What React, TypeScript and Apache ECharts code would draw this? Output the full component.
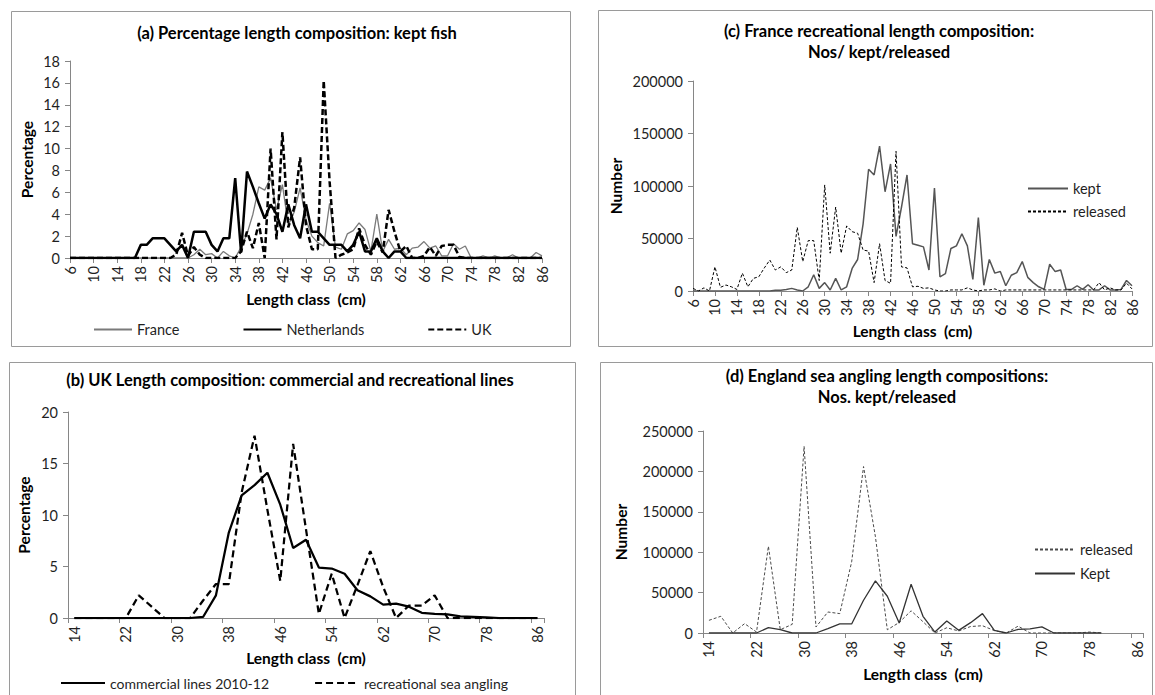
import React, { useEffect, useRef } from "react";
import * as echarts from "echarts";

const FONT = 'Lato, "Liberation Sans", sans-serif';

// Length classes (cm): 1 cm classes for panels (a) and (c), 2 cm classes for (b) and (d)
const lengthsFine = [
  6, 7, 8, 9, 10, 11, 12, 13, 14, 15, 16, 17, 18, 19, 20, 21, 22, 23, 24, 25,
  26, 27, 28, 29, 30, 31, 32, 33, 34, 35, 36, 37, 38, 39, 40, 41, 42, 43, 44, 45,
  46, 47, 48, 49, 50, 51, 52, 53, 54, 55, 56, 57, 58, 59, 60, 61, 62, 63, 64, 65,
  66, 67, 68, 69, 70, 71, 72, 73, 74, 75, 76, 77, 78, 79, 80, 81, 82, 83, 84, 85, 86,
];
const lengthsEven = [
  14, 16, 18, 20, 22, 24, 26, 28, 30, 32, 34, 36, 38, 40, 42, 44, 46, 48, 50, 52,
  54, 56, 58, 60, 62, 64, 66, 68, 70, 72, 74, 76, 78, 80, 82, 84, 86,
];

// (a) Percentage length composition of kept fish
const pctFrance = [
  0, 0, 0, 0, 0, 0, 0, 0, 0, 0, 0, 0, 0, 0, 0, 0, 0, 0, 0, 0,
  0, 0.3, 0.8, 0.3, 0.4, 0, 0.6, 0.2, 0, 1.0,
  2.2, 4.0, 6.5, 6.2, 7.3, 4.4, 6.7, 3.0, 4.2, 6.4,
  3.5, 2.0, 1.4, 1.1, 5.0, 1.0, 0.8, 2.2, 2.5, 3.2,
  2.6, 0.6, 4.0, 0.6, 1.7, 0.8, 0.9, 0.3, 0.9, 1.0,
  1.5, 0.9, 1.1, 0.2, 0.2, 1.3, 0.8, 1.1, 0, 0,
  0.2, 0, 0.2, 0, 0, 0.3, 0, 0, 0, 0.5, 0.2,
];
const pctNetherlands = [
  0, 0, 0, 0, 0, 0, 0, 0, 0, 0, 0, 0,
  1.2, 1.2, 1.8, 1.8, 1.8, 1.2, 0.6, 1.2,
  0, 2.4, 2.4, 2.4, 1.2, 0.6, 1.8, 1.8, 7.3, 0.5,
  7.9, 6.5, 5.0, 3.6, 4.9, 4.0, 2.4, 4.9, 3.0, 1.8,
  4.9, 2.4, 2.4, 1.8, 1.2, 1.2, 1.2, 0.6, 1.2, 2.4,
  0.6, 0.6, 1.8, 0.6, 0, 0.6, 0.6, 0, 0, 0,
  0, 0, 0, 0, 0, 0, 0, 0, 0, 0, 0, 0, 0, 0, 0, 0, 0, 0, 0, 0, 0,
];
const pctUK = [
  0, 0, 0, 0, 0, 0, 0, 0, 0, 0, 0, 0, 0, 0, 0, 0, 0, 0,
  0.3, 2.3,
  0.2, 1.0, 0.3, 0, 0, 0, 0, 0, 0, 0.6,
  2.4, 0.9, 3.2, 0, 10.0, 1.7, 11.5, 2.8, 4.6, 9.2,
  3.0, 0.8, 0.8, 16.2, 7.0, 0, 0.3, 0.5, 0.8, 2.7,
  1.2, 0.3, 1.5, 0.5, 4.4, 2.4, 0.6, 1.1, 0, 0,
  0.2, 1.0, 0.2, 1.1, 1.2, 1.2, 0.1, 0, 0, 0,
  0, 0, 0, 0, 0, 0, 0, 0, 0, 0, 0,
];

// (b) UK length composition, commercial vs recreational lines (%)
const pctCommercial = [
  0, 0, 0, 0, 0, 0, 0, 0, 0, 0,
  0.1, 2.2, 8.3, 11.9, 12.9, 14.1, 11.0, 6.8, 7.6, 4.9,
  4.8, 4.3, 2.7, 2.1, 1.3, 1.4, 1.1, 0.5, 0.4, 0.35,
  0.15, 0.1, 0.05, 0, 0, 0, 0,
];
const pctRecreational = [
  0, 0, 0, 0, 0, 2.2, 1.1, 0, 0, 0,
  1.7, 3.3, 3.3, 12.2, 17.7, 10.5, 3.6, 16.9, 8.6, 0.4,
  4.3, 0, 3.2, 6.5, 3.0, 0, 1.2, 1.2, 2.2, 0,
  0, 0, 0, 0, 0, 0, 0,
];

// (c) France recreational numbers kept / released
const frKept = [
  0, 0, 0, 0, 0, 0, 0, 0, 0, 0, 0, 0, 0, 0, 0,
  800, 800, 1500, 2500, 1000,
  0, 4000, 15500, 2500, 8000, 1000, 12000, 1000, 4000, 21500,
  30000, 64000, 116000, 110500, 138000, 94500, 121000, 52000, 80000, 110500,
  45000, 43500, 42000, 20000, 98000, 13500, 16500, 40500, 43000, 54500,
  43000, 11000, 70000, 5500, 30000, 17000, 18500, 5000, 15000, 17500,
  28000, 13000, 8000, 4000, 1500, 25500, 18500, 20000, 1500, 1500,
  5000, 1500, 6000, 1000, 1000, 5000, 1000, 1000, 1500, 10000, 5000,
];
const frReleased = [
  2500, 0, 3000, 0, 23000, 3500, 5700, 4000, 1500, 17000,
  4000, 12000, 13600, 22000, 29500, 20000, 23000, 17500, 20000, 60600,
  28000, 48000, 48000, 10000, 101000, 36000, 80000, 36000, 62000, 56500,
  55000, 39000, 38000, 8000, 45000, 10000, 7300, 133000, 23000, 22000,
  4000, 4500, 2500, 3000, 1000, 0, 0, 1000, 1000, 1000,
  3000, 1000, 0, 1000, 1000, 2000, 0, 1000, 1000, 1000,
  1000, 1000, 1000, 1000, 1000, 1000, 1000, 1000, 1000, 1000,
  1000, 1000, 1000, 1000, 8000, 1000, 3000, 1000, 1000, 7500, 2000,
];

// (d) England sea angling numbers released / kept
const enReleased = [
  15700, 20700, 0, 11600, 1200, 107400, 4100, 10700, 231000, 7400,
  26000, 24000, 88000, 206000, 119000, 4000, 13000, 27500, 14000, 0,
  6500, 2500, 8000, 9000, 3000, 0, 8500, 0, 0, 0,
  0, 0, 1200, 0, null, null, null,
];
const enKept = [
  0, 0, 0, 0, 0, 6600, 4100, 0, 0, 0,
  5400, 11200, 11200, 40500, 64500, 45500, 12400, 60300, 20700, 1200,
  14900, 3300, 12800, 24000, 3300, 0, 4500, 5000, 7500, 0,
  0, 0, 0, 0, null, null, null,
];

const AXIS_GRAY = "#868686";
const tickLabel = { color: "#1f1f1f", fontFamily: FONT, fontSize: 14.5 };
const axisName = { color: "#000", fontFamily: FONT, fontSize: 15.5, fontWeight: "bold" as const };
const legendText = { color: "#1f1f1f", fontFamily: FONT, fontSize: 14.5 };

function catAxis(gridIndex: number, data: number[], boundaryGap: boolean, nameGap: number) {
  return {
    gridIndex,
    type: "category" as const,
    data: data.map(String),
    boundaryGap,
    axisLine: { show: true, lineStyle: { color: AXIS_GRAY, width: 1 } },
    axisTick: { show: true, interval: 3, length: 5, lineStyle: { color: AXIS_GRAY } },
    axisLabel: { interval: 3, rotate: 90, margin: 8, ...tickLabel },
    splitLine: { show: false },
    name: "Length class  (cm)",
    nameLocation: "middle" as const,
    nameGap,
    nameTextStyle: axisName,
  };
}

function valAxis(gridIndex: number, max: number, interval: number, name: string, nameGap: number) {
  return {
    gridIndex,
    type: "value" as const,
    min: 0,
    max,
    interval,
    axisLine: { show: true, lineStyle: { color: AXIS_GRAY, width: 1 } },
    axisTick: { show: true, length: 5, lineStyle: { color: AXIS_GRAY } },
    axisLabel: { margin: 10, formatter: (v: number) => String(v), ...tickLabel },
    splitLine: { show: false },
    name,
    nameLocation: "middle" as const,
    nameRotate: 90,
    nameGap,
    nameTextStyle: axisName,
  };
}

function lineSeries(
  name: string,
  axis: number,
  data: (number | null)[],
  color: string,
  width: number,
  type: "solid" | number[]
) {
  return {
    name,
    type: "line" as const,
    xAxisIndex: axis,
    yAxisIndex: axis,
    data,
    symbol: "none",
    connectNulls: false,
    silent: true,
    lineStyle: { color, width, type },
    itemStyle: { color },
  };
}

// Legend showing only the line sample (the marker is made invisible)
function legendBox(extra: Record<string, unknown>) {
  return {
    itemHeight: 14,
    textStyle: legendText,
    selectedMode: false,
    itemStyle: { color: "transparent", borderWidth: 0, opacity: 0 },
    ...extra,
  };
}

function panelTitle(text: string, x: number, y: number) {
  return {
    type: "text",
    x,
    y,
    silent: true,
    style: {
      text,
      align: "center",
      verticalAlign: "middle",
      fontFamily: FONT,
      fontSize: 16.5,
      fontWeight: "bold",
      lineHeight: 21,
      fill: "#000",
    },
  };
}

function frame(x: number, y: number, w: number, h: number) {
  return {
    type: "rect",
    silent: true,
    shape: { x, y, width: w, height: h },
    style: { fill: "none", stroke: "#9a9a9a", lineWidth: 1 },
  };
}

export default function App() {
  const ref = useRef<HTMLDivElement>(null);

  useEffect(() => {
    if (!ref.current) return;
    const chart = echarts.init(ref.current, undefined, { renderer: "svg" });
    chart.setOption({
      animation: false,
      backgroundColor: "#ffffff",
      grid: [
        { left: 70, top: 61, width: 472, height: 197 },
        { left: 68, top: 412, width: 476, height: 206 },
        { left: 693, top: 81, width: 439, height: 210 },
        { left: 703, top: 431, width: 440, height: 202 },
      ],
      xAxis: [
        catAxis(0, lengthsFine, false, 33),
        catAxis(1, lengthsEven, true, 32),
        catAxis(2, lengthsFine, false, 32),
        catAxis(3, lengthsEven, true, 33),
      ],
      yAxis: [
        valAxis(0, 18, 2, "Percentage", 35),
        valAxis(1, 20, 5, "Percentage", 36),
        valAxis(2, 200000, 50000, "Number", 69),
        valAxis(3, 250000, 50000, "Number", 74),
      ],
      legend: [
        legendBox({
          data: ["France", "Netherlands", "UK"],
          left: 88,
          top: 317,
          itemWidth: 38,
          itemGap: 63,
        }),
        legendBox({
          data: ["commercial lines 2010-12", "recreational sea angling"],
          left: 55,
          top: 671,
          itemWidth: 44,
          itemGap: 45,
          textStyle: { ...legendText, fontSize: 14 },
        }),
        legendBox({
          data: ["kept", "released"],
          orient: "vertical",
          left: 1022,
          top: 176,
          itemWidth: 40,
          itemGap: 8,
        }),
        legendBox({
          data: ["released ", "Kept"],
          orient: "vertical",
          left: 1029,
          top: 537,
          itemWidth: 40,
          itemGap: 9,
        }),
      ],
      series: [
        lineSeries("France", 0, pctFrance, "#7a7a7a", 1.3, "solid"),
        lineSeries("Netherlands", 0, pctNetherlands, "#000000", 2.5, "solid"),
        lineSeries("UK", 0, pctUK, "#000000", 2.5, [6, 3]),
        lineSeries("commercial lines 2010-12", 1, pctCommercial, "#000000", 2.25, "solid"),
        lineSeries("recreational sea angling", 1, pctRecreational, "#000000", 2.25, [7, 4]),
        lineSeries("kept", 2, frKept, "#555555", 1.5, "solid"),
        lineSeries("released", 2, frReleased, "#000000", 1, [3, 2]),
        lineSeries("released ", 3, enReleased, "#4a4a4a", 1, [3, 2]),
        lineSeries("Kept", 3, enKept, "#333333", 1.3, "solid"),
      ],
      graphic: [
        frame(11.5, 11.5, 559, 335),
        frame(598.5, 10.5, 554, 336),
        frame(9.5, 362.5, 566, 340),
        frame(600.5, 362.5, 552, 340),
        panelTitle("(a) Percentage length composition: kept fish", 297, 33),
        panelTitle("(c) France recreational length composition:\nNos/ kept/released", 879, 41),
        panelTitle("(b) UK Length composition: commercial and recreational lines", 290, 380),
        panelTitle("(d) England sea angling length compositions:\nNos. kept/released", 887, 386),
      ],
    });
    return () => chart.dispose();
  }, []);

  return (
    <div
      ref={ref}
      style={{ position: "absolute", left: 0, top: 0, width: 1155, height: 695, background: "#fff" }}
    />
  );
}
